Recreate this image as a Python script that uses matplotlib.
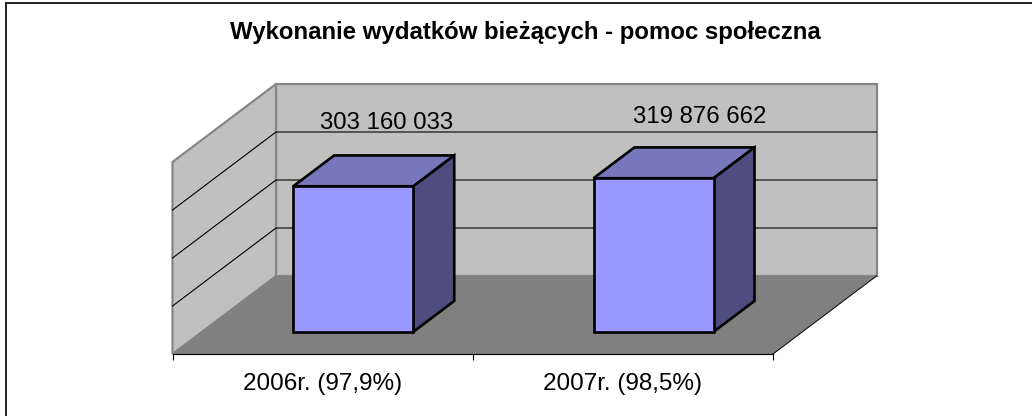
import matplotlib
matplotlib.use('Agg')
from matplotlib import pyplot as plt
from matplotlib.patches import Polygon, Rectangle

categories = ['2006r. (97,9%)', '2007r. (98,5%)']
values = [303160033, 319876662]
value_labels = ['303 160 033', '319 876 662']
grid_values = [100000000, 200000000, 300000000]
title = 'Wykonanie wydatków bieżących - pomoc społeczna'
y_max = 400000000

W, H = 1032, 416
plt.rcParams['font.family'] = ['Liberation Sans', 'DejaVu Sans']

fig = plt.figure(figsize=(W / 100, H / 100), dpi=100)

# frame of the chart, only left and top show up
fig.add_artist(Rectangle((5.5 / W, -0.1), 1.2, 1.1 - 3.5 / H, transform=fig.transFigure,
                         fill=False, ec='#202020', lw=1.4))

# axes = the front floor edge + value height, walls are projected from it
ax = fig.add_axes([172.5 / W, 1 - 354 / H, 600.5 / W, 192 / H])
ax.set_xlim(-0.5, 1.5)
ax.set_ylim(0, y_max)
ax.patch.set_visible(False)
for s in ['top', 'left', 'right']:
    ax.spines[s].set_visible(False)
ax.spines['bottom'].set_color('black')
ax.spines['bottom'].set_linewidth(0.8)
ax.set_yticks([])
ax.set_xticks([-0.5, 0.5, 1.5])
ax.set_xticklabels([])
ax.tick_params(axis='x', length=4, width=0.8, color='black')
ax.set_xticks([0, 1], minor=True)
ax.set_xticklabels(categories, minor=True, fontsize=17.5)
ax.tick_params(axis='x', which='minor', length=0, pad=14)

# depth of the whole floor, in data units
DX = 103.5 / 300.25
DY = 78.0 / 192 * y_max


def proj(x, v, d=0.0):
    return (x + d * DX, v + d * DY)


def poly(pts, fc, ec='none', lw=0.0, z=1):
    ax.add_patch(Polygon(pts, closed=True, fc=fc, ec=ec, lw=lw, zorder=z,
                         clip_on=False, joinstyle='miter'))


x0, x1 = -0.5, 1.5
wall_gray = '#C0C0C0'
edge_gray = '#868686'

poly([proj(x0, 0, 1), proj(x1, 0, 1), proj(x1, y_max, 1), proj(x0, y_max, 1)], wall_gray, edge_gray, 1.6, 1)
poly([proj(x0, 0, 0), proj(x0, 0, 1), proj(x0, y_max, 1), proj(x0, y_max, 0)], wall_gray, edge_gray, 1.6, 1)
poly([proj(x0, 0, 0), proj(x1, 0, 0), proj(x1, 0, 1), proj(x0, 0, 1)], '#808080', 'none', 0, 2)
p = [proj(x1, 0, 0), proj(x1, 0, 1)]
ax.plot([p[0][0], p[1][0]], [p[0][1], p[1][1]], color='black', lw=0.7, zorder=3, clip_on=False)

for g in grid_values:
    a, b, c = proj(x0, g, 0), proj(x0, g, 1), proj(x1, g, 1)
    ax.plot([a[0], b[0], c[0]], [a[1], b[1], c[1]], color='black', lw=0.8, zorder=3, clip_on=False)

# bars, box sits between these depths on the floor
half = 0.2
d0, d1 = 0.285, 0.68
shift = 0.004
label_shift = [(-6, 32), (6, 30)]
for i, v in enumerate(values):
    l, r = i - half + shift, i + half + shift
    poly([proj(l, v, d0), proj(r, v, d0), proj(r, v, d1), proj(l, v, d1)], '#7777BB', 'black', 1.9, 4)
    poly([proj(r, 0, d0), proj(r, 0, d1), proj(r, v, d1), proj(r, v, d0)], '#4D4D80', 'black', 1.9, 4)
    poly([proj(l, 0, d0), proj(r, 0, d0), proj(r, v, d0), proj(l, v, d0)], '#9999FF', 'black', 1.9, 5)
    tx, ty = proj(i, v, d1)
    ax.annotate(value_labels[i], (tx, ty), xytext=label_shift[i], textcoords='offset pixels',
                ha='center', va='center', fontsize=17.3, color='black', zorder=6,
                annotation_clip=False)

fig.text(525 / W, 1 - 33 / H, title, ha='center', va='center', fontsize=17.3, fontweight='bold')

fig.savefig('out.png', dpi=100)
